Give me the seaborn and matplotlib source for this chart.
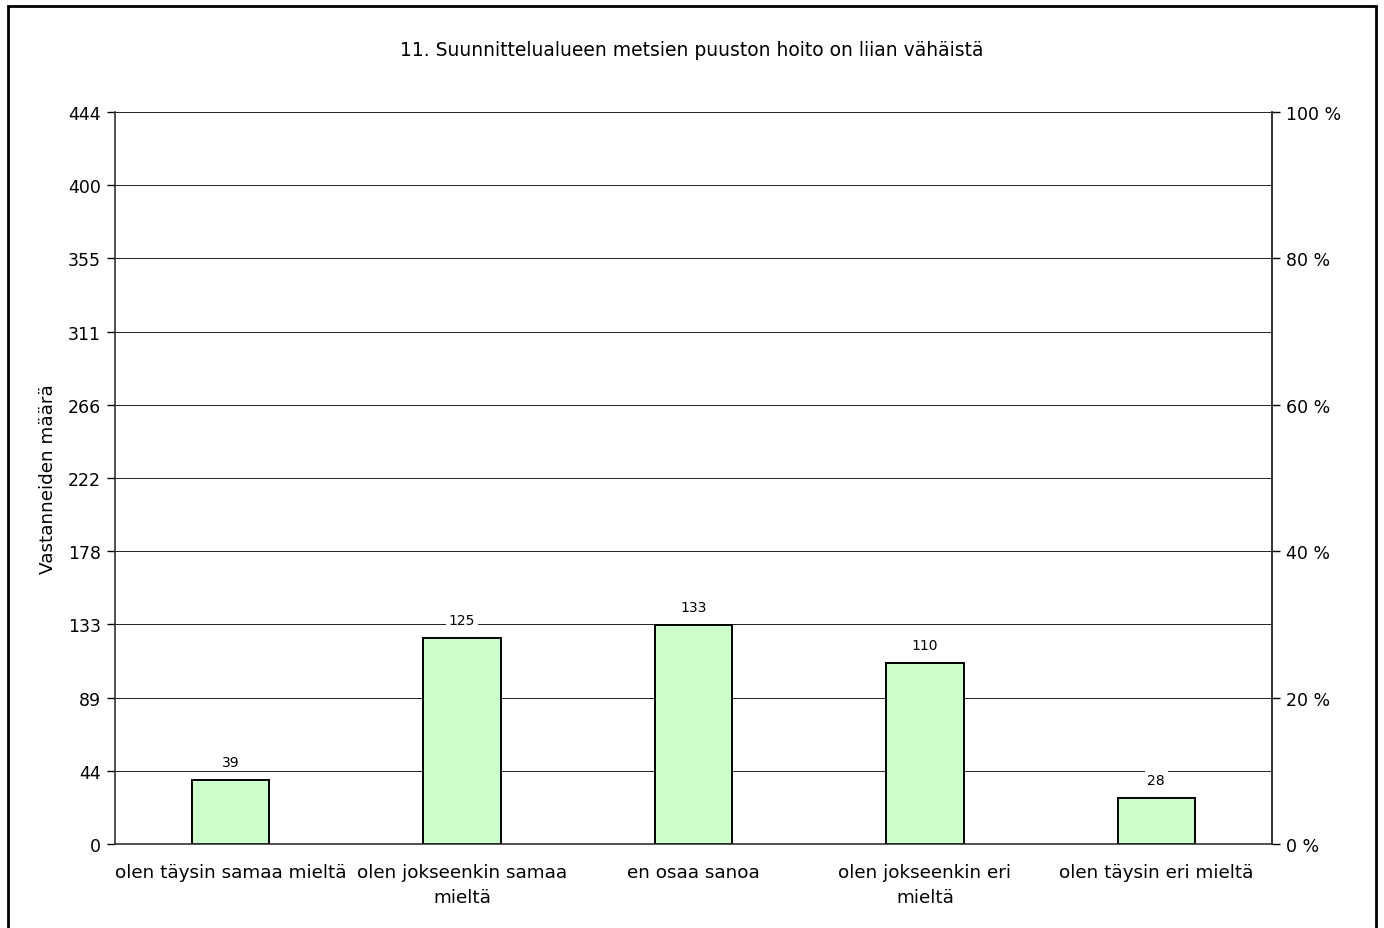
import numpy as np
import pandas as pd
import matplotlib
matplotlib.use('Agg')
import matplotlib.pyplot as plt
import matplotlib.patches as patches
from matplotlib.ticker import FixedLocator, FuncFormatter
import seaborn as sns

# Data
title = '11. Suunnittelualueen metsien puuston hoito on liian vähäistä'
categories = ['olen täysin samaa mieltä', 'olen jokseenkin samaa\nmieltä',
              'en osaa sanoa', 'olen jokseenkin eri\nmieltä', 'olen täysin eri mieltä']
counts = [39, 125, 133, 110, 28]
y_max = 444
y_ticks = [0, 44, 89, 133, 178, 222, 266, 311, 355, 400, 444]
pct_ticks = [0, 20, 40, 60, 80, 100]

df = pd.DataFrame({'vastaus': categories, 'lkm': counts})

sns.set_style('white')
plt.rcParams['font.family'] = ['DejaVu Sans']
plt.rcParams['text.color'] = 'black'
plt.rcParams['axes.labelcolor'] = 'black'
plt.rcParams['xtick.color'] = 'black'
plt.rcParams['ytick.color'] = 'black'

fig = plt.figure(figsize=(13.84, 9.29), dpi=100)
ax = fig.add_axes([115 / 1384, 1 - 845 / 929, (1272 - 115) / 1384, (845 - 113) / 929])

sns.barplot(data=df, x='vastaus', y='lkm', color='#CCFFCC', saturation=1,
            edgecolor='black', linewidth=1.4, width=0.335, ax=ax)

ax.set_xlim(-0.5, len(categories) - 0.5)
ax.set_ylim(0, y_max)
ax.set_axisbelow(True)

# y axis: ticks at multiples of max/10, labelled rounded
ax.yaxis.set_major_locator(FixedLocator(np.linspace(0, y_max, 11)))
ax.set_yticklabels([str(t) for t in y_ticks])
ax.yaxis.grid(True, color='#222222', linewidth=0.7)
ax.xaxis.grid(False)

# x axis: labels under bars, tick marks between categories
ax.set_xticks(range(len(categories)))
ax.set_xticklabels(categories, fontsize=13.2, linespacing=1.45)
ax.set_xticks(np.arange(-0.5, len(categories), 1.0), minor=True)
ax.tick_params(axis='x', which='major', length=0, pad=14)
ax.tick_params(axis='x', which='minor', length=6, width=1, direction='out')
ax.tick_params(axis='y', length=6, width=1, direction='out',
               labelsize=12.5, pad=4, left=True)

ax.set_xlabel('')
ax.set_ylabel('Vastanneiden määrä', fontsize=13.2, labelpad=8)

for side in ['left', 'bottom', 'right']:
    ax.spines[side].set_visible(True)
    ax.spines[side].set_color('#333333')
    ax.spines[side].set_linewidth(1.2)
ax.spines['top'].set_visible(False)

# value labels with white backing that interrupts the gridlines
ax.bar_label(ax.containers[0], labels=[str(v) for v in counts], padding=8,
             fontsize=10, bbox=dict(facecolor='white', edgecolor='none', pad=2))

# right percentage axis
ax2 = ax.twinx()
ax2.set_ylim(0, 100)
ax2.set_yticks(pct_ticks)
ax2.yaxis.set_major_formatter(FuncFormatter(lambda v, p: f'{int(v)} %'))
ax2.tick_params(axis='y', length=6, width=1, direction='out',
                labelsize=12.5, pad=4, right=True)
for side in ['left', 'bottom', 'top']:
    ax2.spines[side].set_visible(False)
ax2.spines['right'].set_color('#333333')
ax2.spines['right'].set_linewidth(1.2)
ax2.grid(False)

fig.text(0.5, 1 - 50 / 929, title, ha='center', va='center', fontsize=13.5)

# outer frame
frame = patches.Rectangle((8 / 1384, -0.05), (1376 - 8) / 1384, 1.05 - 7 / 929,
                          transform=fig.transFigure, fill=False, edgecolor='black',
                          linewidth=2, clip_on=False)
fig.patches.append(frame)

fig.savefig('out.png', dpi=100)
